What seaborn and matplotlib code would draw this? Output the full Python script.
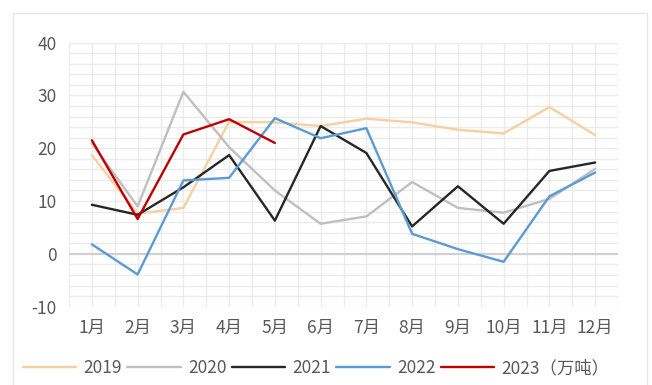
import matplotlib
matplotlib.use("Agg")
import matplotlib.pyplot as plt
import seaborn as sns
import pandas as pd
from matplotlib.patches import Rectangle
from matplotlib.lines import Line2D

months = ["1月", "2月", "3月", "4月", "5月", "6月", "7月", "8月", "9月", "10月", "11月", "12月"]
y2019 = [18.7, 7.6, 8.7, 25.0, 24.9, 24.2, 25.6, 24.9, 23.5, 22.8, 27.8, 22.5]
y2020 = [20.9, 9.0, 30.7, 20.2, 12.0, 5.7, 7.1, 13.6, 8.7, 7.8, 10.4, 16.1]
y2021 = [9.3, 7.4, 12.6, 18.7, 6.3, 24.2, 19.1, 5.2, 12.8, 5.7, 15.7, 17.3]
y2022 = [1.8, -3.9, 13.9, 14.4, 25.7, 21.9, 23.8, 3.8, 0.9, -1.5, 10.9, 15.4]
y2023 = [21.5, 6.6, 22.6, 25.5, 21.0]
series_labels = ["2019", "2020", "2021", "2022", "2023（万吨）"]
colors = ["#F8CFA0", "#BFBFBF", "#262626", "#5B9BD5", "#C00000"]

sns.set_theme(style="white")
plt.rcParams["font.family"] = ["Noto Sans CJK SC", "DejaVu Sans"]
plt.rcParams["axes.unicode_minus"] = False

rows = []
for label, vals in zip(series_labels, [y2019, y2020, y2021, y2022, y2023]):
    for i, v in enumerate(vals):
        rows.append({"月": i, "值": v, "年份": label})
df = pd.DataFrame(rows)

fig = plt.figure(figsize=(6.52, 3.85), dpi=100)
fig.patch.set_facecolor("white")
fig.patches.append(Rectangle((13 / 652, -0.05), (647 - 13) / 652, 1 - 13 / 385 + 0.05,
                             transform=fig.transFigure, fill=False,
                             edgecolor="#E6E6E6", linewidth=1.0, zorder=0))

ax = fig.add_axes([69 / 652, 1 - 306.7 / 385, (618 - 69) / 652, (306.7 - 42.6) / 385])

# light grid: half-category vertical lines, every 2 units horizontally
grid_c = "#EBEBEB"
for k in range(25):
    ax.axvline(-0.5 + 0.5 * k, color=grid_c, lw=1.0, zorder=0)
for v in range(-10, 41, 2):
    ax.axhline(v, color=grid_c, lw=1.0, zorder=0)
ax.axhline(0, color="#D0D0D0", lw=1.5, zorder=1)

sns.lineplot(data=df, x="月", y="值", hue="年份", palette=dict(zip(series_labels, colors)),
             hue_order=series_labels, linewidth=1.7, ax=ax, legend=False, zorder=3)

ax.set_xlim(-0.5, 11.5)
ax.set_ylim(-10, 40)
ax.set_xticks(range(12))
ax.set_xticklabels(months)
ax.set_yticks(range(-10, 41, 10))
ax.set_xlabel("")
ax.set_ylabel("")
for s in ax.spines.values():
    s.set_visible(False)
ax.tick_params(axis="both", length=0, labelsize=12.5, colors="#595959")
ax.tick_params(axis="x", pad=9)
ax.tick_params(axis="y", pad=9)

handles = [Line2D([0], [0], color=c, lw=1.7) for c in colors]
fig.legend(handles, series_labels, loc="center", bbox_to_anchor=(316 / 652, 1 - 368 / 385),
           ncol=5, frameon=False, fontsize=12.5, handlelength=3.1, handletextpad=0.4,
           columnspacing=0.3, labelcolor="#595959", borderpad=0)

fig.savefig("out.png", dpi=100, facecolor="white")
